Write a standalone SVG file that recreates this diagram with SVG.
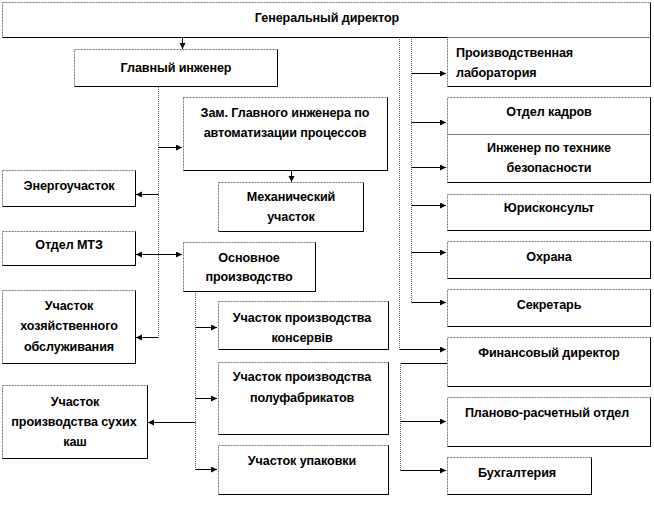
<svg xmlns="http://www.w3.org/2000/svg" width="654" height="507" viewBox="0 0 654 507">
<style>
.box{fill:#fff;stroke:#777;stroke-width:1;stroke-dasharray:2 1}
.edge{fill:none;stroke:#000;stroke-width:1}
text{font-family:"Liberation Sans",Arial,sans-serif;font-size:12.6px;font-weight:bold;fill:#000;text-anchor:middle;letter-spacing:-0.1px}
.l{text-anchor:start}
.v{fill:none;stroke:#666;stroke-width:1;stroke-dasharray:1 1}
.h{fill:none;stroke:#000;stroke-width:1}
</style>
<defs>
<marker id="a" markerUnits="userSpaceOnUse" markerWidth="7" markerHeight="7" refX="6" refY="3" orient="auto">
<path d="M0,0 L6,3 L0,6 z" fill="#000"/>
</marker>
</defs>
<rect width="654" height="507" fill="#fff"/>
<g id="connectors">
<path class="h" d="M182.5,37 V49" marker-end="url(#a)"/>
<path class="v" d="M158.5,87 V337"/>
<path class="h" d="M158.5,147.5 H182" marker-end="url(#a)"/>
<path class="h" d="M158.5,194.5 H136" marker-end="url(#a)"/>
<path class="h" d="M158.5,254.5 H136" marker-end="url(#a)"/>
<path class="h" d="M158.5,254.5 H182" marker-end="url(#a)"/>
<path class="h" d="M158.5,337.5 H136" marker-end="url(#a)"/>
<path class="h" d="M291.5,170 V182" marker-end="url(#a)"/>
<path class="v" d="M195.5,291 V469"/>
<path class="h" d="M195.5,327.5 H217" marker-end="url(#a)"/>
<path class="h" d="M195.5,398.5 H217" marker-end="url(#a)"/>
<path class="h" d="M195.5,469.5 H217" marker-end="url(#a)"/>
<path class="h" d="M195.5,422.5 H148" marker-end="url(#a)"/>
<path class="v" d="M411.5,37 V302"/>
<path class="v" d="M399.5,37 V349"/>
<path class="h" d="M411.5,73.5 H446" marker-end="url(#a)"/>
<path class="h" d="M411.5,122.5 H446" marker-end="url(#a)"/>
<path class="h" d="M411.5,167.5 H446" marker-end="url(#a)"/>
<path class="h" d="M411.5,205.5 H446" marker-end="url(#a)"/>
<path class="h" d="M411.5,252.5 H446" marker-end="url(#a)"/>
<path class="h" d="M411.5,302.5 H446" marker-end="url(#a)"/>
<path class="h" d="M399.5,349.5 H446" marker-end="url(#a)"/>
<path class="h" d="M447,363.5 H400.5"/>
<path class="v" d="M400.5,363 V470"/>
<path class="h" d="M400.5,421.5 H446" marker-end="url(#a)"/>
<path class="h" d="M400.5,470.5 H446" marker-end="url(#a)"/>
</g>
<g id="gen"><rect class="box" x="2.5" y="2.5" width="648" height="35"/><path class="edge" d="M650.5,2.5 V37.5 H2.5"/><text x="327" y="22">Генеральный директор</text></g>
<g id="glavinzh"><rect class="box" x="74.5" y="49.5" width="203" height="37"/><path class="edge" d="M277.5,49.5 V86.5 H74.5"/><text x="176" y="72">Главный инженер</text></g>
<g id="zam"><rect class="box" x="183.5" y="97.5" width="204" height="73"/><path class="edge" d="M387.5,97.5 V170.5 H183.5"/><text x="285" y="117">Зам. Главного инженера по</text><text x="285" y="137">автоматизации процессов</text></g>
<g id="energo"><rect class="box" x="2.5" y="170.5" width="133" height="36"/><path class="edge" d="M135.5,170.5 V206.5 H2.5"/><text x="69" y="190">Энергоучасток</text></g>
<g id="meh"><rect class="box" x="218.5" y="182.5" width="145" height="49"/><path class="edge" d="M363.5,182.5 V231.5 H218.5"/><text x="291" y="201">Механический</text><text x="291" y="221">участок</text></g>
<g id="mtz"><rect class="box" x="2.5" y="231.5" width="133" height="34"/><path class="edge" d="M135.5,231.5 V265.5 H2.5"/><text x="69" y="249">Отдел МТЗ</text></g>
<g id="osn"><rect class="box" x="183.5" y="242.5" width="132" height="49"/><path class="edge" d="M315.5,242.5 V291.5 H183.5"/><text x="249" y="262">Основное</text><text x="249" y="281">производство</text></g>
<g id="hoz"><rect class="box" x="2.5" y="290.5" width="133" height="73"/><path class="edge" d="M135.5,290.5 V363.5 H2.5"/><text x="69" y="310">Участок</text><text x="69" y="330">хозяйственного</text><text x="69" y="351">обслуживания</text></g>
<g id="kons"><rect class="box" x="218.5" y="301.5" width="170" height="48"/><path class="edge" d="M388.5,301.5 V349.5 H218.5"/><text x="302" y="322">Участок производства</text><text x="302" y="342">консервів</text></g>
<g id="polu"><rect class="box" x="218.5" y="362.5" width="170" height="72"/><path class="edge" d="M388.5,362.5 V434.5 H218.5"/><text x="302" y="381">Участок производства</text><text x="302" y="402">полуфабрикатов</text></g>
<g id="kash"><rect class="box" x="2.5" y="385.5" width="145" height="73"/><path class="edge" d="M147.5,385.5 V458.5 H2.5"/><text x="75" y="406">Участок</text><text x="74" y="426">производства сухих</text><text x="75" y="446">каш</text></g>
<g id="upak"><rect class="box" x="218.5" y="445.5" width="170" height="49"/><path class="edge" d="M388.5,445.5 V494.5 H218.5"/><text x="302" y="465">Участок упаковки</text></g>
<g id="lab"><rect class="box" x="447.5" y="37.5" width="203" height="49"/><path class="edge" d="M650.5,37.5 V86.5 H447.5"/><text class="l" x="456" y="57">Производственная</text><text class="l" x="456" y="77">лаборатория</text></g>
<g id="kadry"><rect class="box" x="447.5" y="97.5" width="203" height="37"/><path class="edge" d="M650.5,97.5 V134.5 H447.5"/><text x="549" y="116">Отдел кадров</text></g>
<g id="tb"><rect class="box" x="447.5" y="134.5" width="203" height="48"/><path class="edge" d="M650.5,134.5 V182.5 H447.5"/><text x="549" y="152">Инженер по технике</text><text x="549" y="172">безопасности</text></g>
<g id="jur"><rect class="box" x="447.5" y="194.5" width="203" height="36"/><path class="edge" d="M650.5,194.5 V230.5 H447.5"/><text x="549" y="212">Юрисконсульт</text></g>
<g id="ohrana"><rect class="box" x="447.5" y="241.5" width="203" height="37"/><path class="edge" d="M650.5,241.5 V278.5 H447.5"/><text x="549" y="261">Охрана</text></g>
<g id="sekr"><rect class="box" x="447.5" y="289.5" width="203" height="37"/><path class="edge" d="M650.5,289.5 V326.5 H447.5"/><text x="549" y="309">Секретарь</text></g>
<g id="fin"><rect class="box" x="447.5" y="337.5" width="203" height="49"/><path class="edge" d="M650.5,337.5 V386.5 H447.5"/><text x="549" y="357">Финансовый директор</text></g>
<g id="plan"><rect class="box" x="447.5" y="397.5" width="203" height="49"/><path class="edge" d="M650.5,397.5 V446.5 H447.5"/><text x="547" y="417">Планово-расчетный отдел</text></g>
<g id="buh"><rect class="box" x="447.5" y="457.5" width="144" height="37"/><path class="edge" d="M591.5,457.5 V494.5 H447.5"/><text x="517" y="477">Бухгалтерия</text></g>
</svg>
